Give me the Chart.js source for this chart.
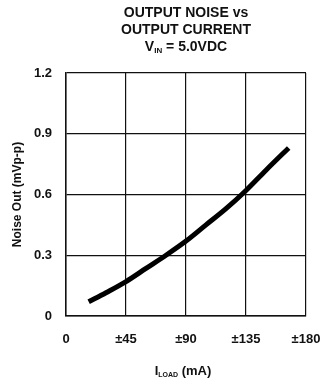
<!DOCTYPE html>
<html>
<head>
<meta charset="utf-8">
<script src="https://cdn.jsdelivr.net/npm/chart.js@4"></script>
<style>
  html, body { margin: 0; padding: 0; background: #fff; }
  #wrap { width: 320px; height: 384px; position: relative; }
</style>
</head>
<body>
<div id="wrap"><canvas id="noiseChart" width="320" height="384"></canvas></div>
<script>
const loadCurrent = [17, 30, 45, 60, 75, 90, 105, 120, 135, 150, 167];
const noiseOut = [0.07, 0.115, 0.17, 0.235, 0.30, 0.37, 0.45, 0.53, 0.62, 0.72, 0.83];
const xTicks = [0, 45, 90, 135, 180];
const yTicks = [0, 0.3, 0.6, 0.9, 1.2];

const FONT = "'Liberation Sans', Arial, sans-serif";

// draws a line of text made of normal + subscript runs, centred on x
function drawRuns(ctx, runs, cx, y, size) {
    const subSize = Math.round(size * 0.55);
    let total = 0;
    runs.forEach(r => {
        ctx.font = 'bold ' + (r.sub ? subSize : size) + 'px ' + FONT;
        r.w = ctx.measureText(r.text).width;
        total += r.w;
    });
    let x = cx - total / 2;
    runs.forEach(r => {
        ctx.font = 'bold ' + (r.sub ? subSize : size) + 'px ' + FONT;
        ctx.fillText(r.text, x, r.sub ? y + size * 0.3 : y);
        x += r.w;
    });
}

const textPlugin = {
    id: 'textPlugin',
    afterDraw(chart) {
        const ctx = chart.ctx;
        ctx.save();
        ctx.fillStyle = '#111';
        ctx.textBaseline = 'middle';
        ctx.textAlign = 'left';
        const cx = (chart.chartArea.left + chart.chartArea.right) / 2;
        drawRuns(ctx, [{ text: 'OUTPUT NOISE vs' }], cx, 13, 14);
        drawRuns(ctx, [{ text: 'OUTPUT CURRENT' }], cx, 30, 14);
        drawRuns(ctx, [{ text: 'V' }, { text: 'IN', sub: true }, { text: ' = 5.0VDC' }], cx, 47, 14);
        drawRuns(ctx, [{ text: 'I' }, { text: 'LOAD', sub: true }, { text: ' (mA)' }], cx - 3, 371, 13);
        ctx.restore();
    }
};

new Chart(document.getElementById('noiseChart'), {
    type: 'line',
    data: {
        datasets: [{
            data: loadCurrent.map((x, i) => ({ x: x, y: noiseOut[i] })),
            borderColor: '#000',
            borderWidth: 5,
            pointRadius: 0,
            cubicInterpolationMode: 'monotone',
            fill: false
        }]
    },
    options: {
        responsive: false,
        animation: false,
        layout: { padding: { top: 73, right: 0, left: 0, bottom: 0 } },
        plugins: {
            legend: { display: false },
            tooltip: { enabled: false }
        },
        scales: {
            x: {
                type: 'linear',
                min: 0,
                max: 180,
                afterBuildTicks: s => { s.ticks = xTicks.map(v => ({ value: v })); },
                afterFit: s => { s.height = 68; s.paddingLeft = 0; s.paddingRight = 14; },
                grid: { color: '#111', lineWidth: 1.2, drawTicks: false },
                border: { color: '#111', width: 1.5 },
                ticks: {
                    padding: 16,
                    color: '#111',
                    font: { family: FONT, size: 13, weight: 'bold' },
                    callback: v => v === 0 ? '0' : '±' + v
                }
            },
            y: {
                min: 0,
                max: 1.2,
                afterBuildTicks: s => { s.ticks = yTicks.map(v => ({ value: v })); },
                afterFit: s => { s.width = 66; },
                grid: { color: '#111', lineWidth: 1.2, drawTicks: false },
                border: { color: '#111', width: 1.5 },
                ticks: {
                    padding: 14,
                    color: '#111',
                    font: { family: FONT, size: 13, weight: 'bold' },
                    callback: v => v === 0 ? '0' : v.toFixed(1)
                },
                title: {
                    display: true,
                    text: 'Noise Out (mVp-p)',
                    color: '#111',
                    font: { family: FONT, size: 12, weight: 'bold' },
                    padding: { top: 10, bottom: 0 }
                }
            }
        }
    },
    plugins: [textPlugin]
});
</script>
</body>
</html>
